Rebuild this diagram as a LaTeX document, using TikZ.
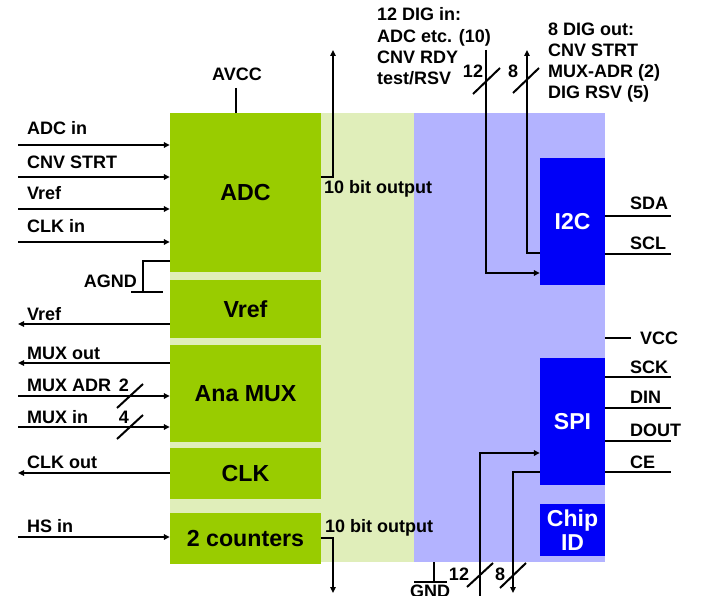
\documentclass[tikz,border=0pt]{standalone}
\usepackage{fontspec}
\setmainfont{Liberation Sans}
\usetikzlibrary{arrows.meta,positioning}
\definecolor{BlockGreen}{HTML}{99CC00}
\definecolor{PaleGreen} {HTML}{E0EEBA}
\definecolor{DigLilac}  {HTML}{B3B3FF}
\definecolor{BlockBlue} {HTML}{0000F8}
\tikzset{
  anablk/.style={fill=BlockGreen,inner sep=0pt,minimum width=151pt,
                 font=\fontsize{23.2}{27}\selectfont\bfseries},
  digblk/.style={fill=BlockBlue,inner sep=0pt,minimum width=65pt,text=white,
                 align=center,font=\fontsize{23}{24}\selectfont\bfseries},
  lbl/.style={inner sep=0pt,font=\fontsize{18}{21.3}\selectfont\bfseries},
  sig/.style={line width=2pt},
  arr/.style={-{Triangle[length=6pt,width=5.5pt]}},
}
\begin{document}
\begin{tikzpicture}[x=1pt,y=-1pt]
  \useasboundingbox (0,0) rectangle (704,596);
  % chip areas
  \node[fill=PaleGreen,inner sep=0pt,minimum width=244pt,minimum height=449pt] (anaarea) at (292,337.5) {};
  \node[fill=DigLilac,inner sep=0pt,minimum width=191pt,minimum height=449pt] (digarea) at (509.5,337.5) {};
  % analog blocks
  \node[anablk,minimum height=159pt] (adc) at (245.5,192.5) {ADC};
  \node[anablk,minimum height=58pt,below=8pt of adc] (vref) {Vref};
  \node[anablk,minimum height=97pt,below=6pt of vref] (anamux) {Ana MUX};
  \node[anablk,minimum height=51pt,below=6pt of anamux] (clk) {CLK};
  \node[anablk,minimum height=51pt,below=13pt of clk] (cnt) {2 counters};
  % digital blocks
  \node[digblk,minimum height=127pt] (i2c) at (572.5,221.5) {I2C};
  \node[digblk,minimum height=127pt] (spi) at (572.5,421.5) {SPI};
  \node[digblk,minimum height=52pt,below=19pt of spi] (chipid) {Chip\\ID};

  % analog inputs / outputs
  \foreach \y/\b/\txt/\nm in {145/135/ADC in/adcin,177/169/CNV STRT/cnvin,209/200/Vref/vrefin,242/233/CLK in/clkin}{
    \coordinate (\nm) at (18,\y);
    \draw[sig,arr] (\nm) -- (\nm -| adc.west);
    \node[lbl,anchor=base west] (\nm l) at (27,\b) {\txt};
  }
  \foreach \y/\b/\txt/\nm/\blk in {324/320/Vref/vrefout/vref,363/359/MUX out/muxout/anamux,473/468/CLK out/clkout/clk}{
    \coordinate (\nm) at (18,\y);
    \draw[sig,arr] (\nm -| \blk.west) -- (\nm);
    \node[lbl,anchor=base west] (\nm l) at (27,\b) {\txt};
  }
  \foreach \y/\b/\txt/\nm/\w in {396/391/MUX ADR/muxadr/2,427/423/MUX in/muxin/4}{
    \coordinate (\nm) at (18,\y);
    \draw[sig,arr] (\nm) -- (\nm -| anamux.west);
    \draw[sig] (117,\y+12) -- (143,\y-12);
    \node[lbl,anchor=base west] (\nm l) at (27,\b) {\txt};
    \node[lbl,anchor=base] (\nm w) at (124,\b) {\w};
  }
  \coordinate (hsin) at (18,537);
  \draw[sig,arr] (hsin) -- (hsin -| cnt.west);
  \node[lbl,anchor=base west] (hsinl) at (27,532) {HS in};

  % supplies
  \node[lbl,anchor=base] (avcc) at (237,81) {AVCC};
  \coordinate (avcctop) at (236,88);
  \draw[sig] (avcctop) -- (avcctop |- adc.north);
  \coordinate (agnd) at (143,292);
  \draw[sig] ([yshift=11pt]adc.south west) -| (agnd);
  \draw[sig] ([xshift=-12pt]agnd) -- ([xshift=20pt]agnd);
  \node[lbl,anchor=base east] (agndl) at (137,287) {AGND};

  % 10 bit outputs
  \coordinate (adcbus) at (333,50);
  \draw[sig,arr] ([yshift=15.5pt]adc.east) -| (adcbus);
  \node[lbl,anchor=base west] (adcoutl) at (324,194) {10 bit output};
  \coordinate (cntbus) at (333,593);
  \draw[sig,arr] (cnt.east) -| (cntbus);
  \node[lbl,anchor=base west] (cntoutl) at (325,532) {10 bit output};

  % digital buses at the top
  \node[lbl,anchor=north west,align=left] (digin) at (377,7.5)
    {12 DIG in:\\ADC etc. (10)\\CNV RDY\\test/RSV};
  \node[lbl,anchor=north west,align=left,font=\fontsize{18}{21}\selectfont\bfseries] (digout) at (548,22.5)
    {8 DIG out:\\CNV STRT\\MUX-ADR (2)\\DIG RSV (5)};
  \coordinate (digintop) at (486,50);
  \draw[sig,arr] (digintop) |- ([yshift=-51.5pt]i2c.west);
  \draw[sig] (473,94) -- (500,68);
  \node[lbl,anchor=base] (dinw) at (473,78) {12};
  \coordinate (digouttop) at (527,50);
  \draw[sig,arr] ([yshift=-31.5pt]i2c.west) -| (digouttop);
  \draw[sig] (513,93) -- (539,68);
  \node[lbl,anchor=base] (doutw) at (513,78) {8};

  % serial pins
  \foreach \y/\b/\txt/\nm/\blk in {216/210/SDA/sda/i2c,254/250/SCL/scl/i2c,377/373/SCK/sck/spi,408/403/DIN/din/spi,441/436/DOUT/dout/spi,472/468/CE/ce/spi}{
    \coordinate (\nm) at (671,\y);
    \draw[sig] (\nm -| \blk.east) -- (\nm);
    \node[lbl,anchor=base west] (\nm l) at (630,\b) {\txt};
  }
  \coordinate (vcc) at (631,338);
  \draw[sig] (vcc -| digarea.east) -- (vcc);
  \node[lbl,anchor=west] (vccl) at (640,338) {VCC};

  % digital buses at the bottom
  \coordinate (spiin) at (480,600);
  \draw[sig,arr] (spiin) |- ([yshift=-31.5pt]spi.west);
  \draw[sig] (467,587) -- (493,563);
  \node[lbl,anchor=base] (spiinw) at (459,580) {12};
  \coordinate (spiout) at (513,593);
  \draw[sig,arr] ([yshift=-50.5pt]spi.west) -| (spiout);
  \draw[sig] (500,588) -- (526,563);
  \node[lbl,anchor=base] (spioutw) at (500,580) {8};
  \coordinate (gnd) at (434,582);
  \draw[sig] (gnd |- digarea.south) -- (gnd);
  \draw[sig] (414,582) -- (447,582);
  \node[lbl,anchor=north] (gndl) at (430,585) {GND};
\end{tikzpicture}
\end{document}
